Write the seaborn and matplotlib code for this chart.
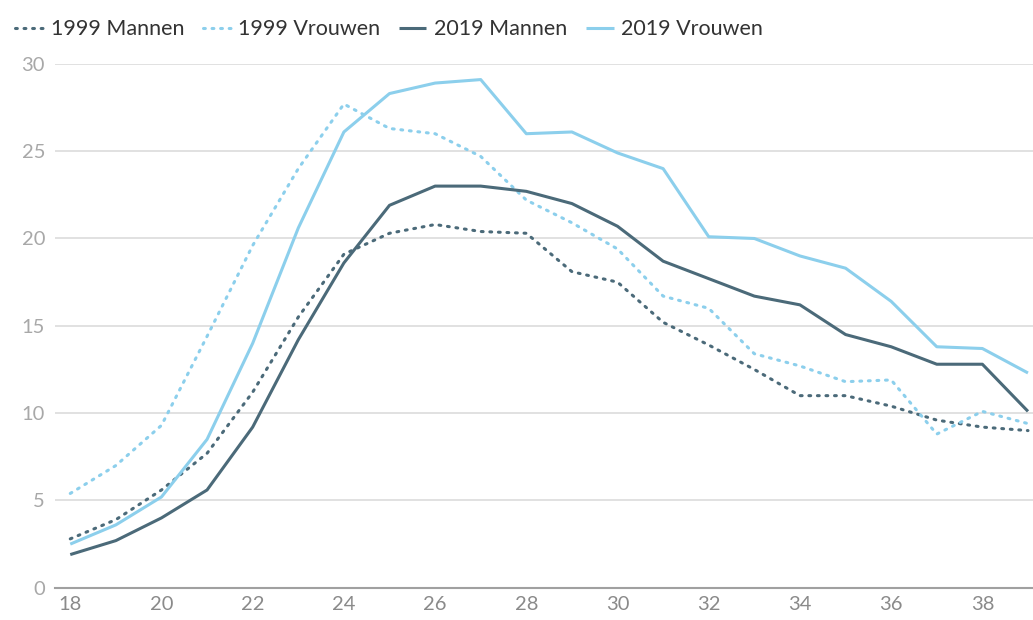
import pandas as pd
import numpy as np
import matplotlib.pyplot as plt
import seaborn as sns

# Data
ages = list(range(18, 40))
mannen_1999 = [2.8, 3.9, 5.6, 7.7, 11.2, 15.5, 19.1, 20.3, 20.8, 20.4, 20.3, 18.1, 17.5, 15.2, 13.9,
               12.5, 11.0, 11.0, 10.4, 9.6, 9.2, 9.0]
vrouwen_1999 = [5.4, 7.0, 9.3, 14.4, 19.6, 24.0, 27.7, 26.3, 26.0, 24.7, 22.2, 20.9, 19.4, 16.7, 16.0,
                13.4, 12.7, 11.8, 11.9, 8.8, 10.1, 9.4]
mannen_2019 = [1.9, 2.7, 4.0, 5.6, 9.2, 14.2, 18.6, 21.9, 23.0, 23.0, 22.7, 22.0, 20.7, 18.7, 17.7,
               16.7, 16.2, 14.5, 13.8, 12.8, 12.8, 10.1]
vrouwen_2019 = [2.5, 3.6, 5.2, 8.5, 14.0, 20.6, 26.1, 28.3, 28.9, 29.1, 26.0, 26.1, 24.9, 24.0, 20.1,
                20.0, 19.0, 18.3, 16.4, 13.8, 13.7, 12.3]

series_names = ["1999 Mannen", "1999 Vrouwen", "2019 Mannen", "2019 Vrouwen"]
series_values = [mannen_1999, vrouwen_1999, mannen_2019, vrouwen_2019]

df = pd.concat([pd.DataFrame({"leeftijd": ages, "waarde": v, "reeks": n})
                for n, v in zip(series_names, series_values)])

dark = "#4b6a79"
light = "#8ccfec"
colors = {"1999 Mannen": dark, "1999 Vrouwen": light, "2019 Mannen": dark, "2019 Vrouwen": light}
styles = {"1999 Mannen": (0, (0.6, 2.2)), "1999 Vrouwen": (0, (0.6, 2.2)),
          "2019 Mannen": "-", "2019 Vrouwen": "-"}

sns.set_style("white")
plt.rcParams["font.family"] = ["Lato", "DejaVu Sans"]

fig = plt.figure(figsize=(10.33, 6.2), dpi=100)
ax = fig.add_axes([0.053, 0.052, 0.947, 0.845])

for name in series_names:
    sns.lineplot(data=df[df["reeks"] == name], x="leeftijd", y="waarde", ax=ax,
                 color=colors[name], linewidth=2.2, label=name,
                 dash_capstyle="round", solid_capstyle="butt")
    ax.lines[-1].set_linestyle(styles[name])

ax.set_xlim(17.66, 39.11)
ax.set_ylim(0, 30)
ax.set_xticks(range(18, 40, 2))
ax.set_yticks(range(0, 31, 5))
ax.set_xlabel("")
ax.set_ylabel("")
ax.grid(axis="y", color="#dedede", linewidth=1.3)
ax.grid(axis="x", visible=False)
for s in ["top", "right", "left"]:
    ax.spines[s].set_visible(False)
ax.spines["bottom"].set_color("#a0a0a0")
ax.spines["bottom"].set_linewidth(1.5)
ax.tick_params(axis="y", length=0, labelsize=14.5, colors="#a8a8a8", pad=7)
ax.tick_params(axis="x", length=0, labelsize=14.5, colors="#8a8a8a", pad=6)

handles, labels = ax.get_legend_handles_labels()
ax.get_legend().remove()
fig.legend(handles, labels, loc="upper left", bbox_to_anchor=(-0.004, 1.0), ncol=4,
           frameon=False, fontsize=15.5, handlelength=1.3, handletextpad=0.35,
           columnspacing=0.85, labelcolor="#333333")

plt.savefig("out.png", dpi=100)
